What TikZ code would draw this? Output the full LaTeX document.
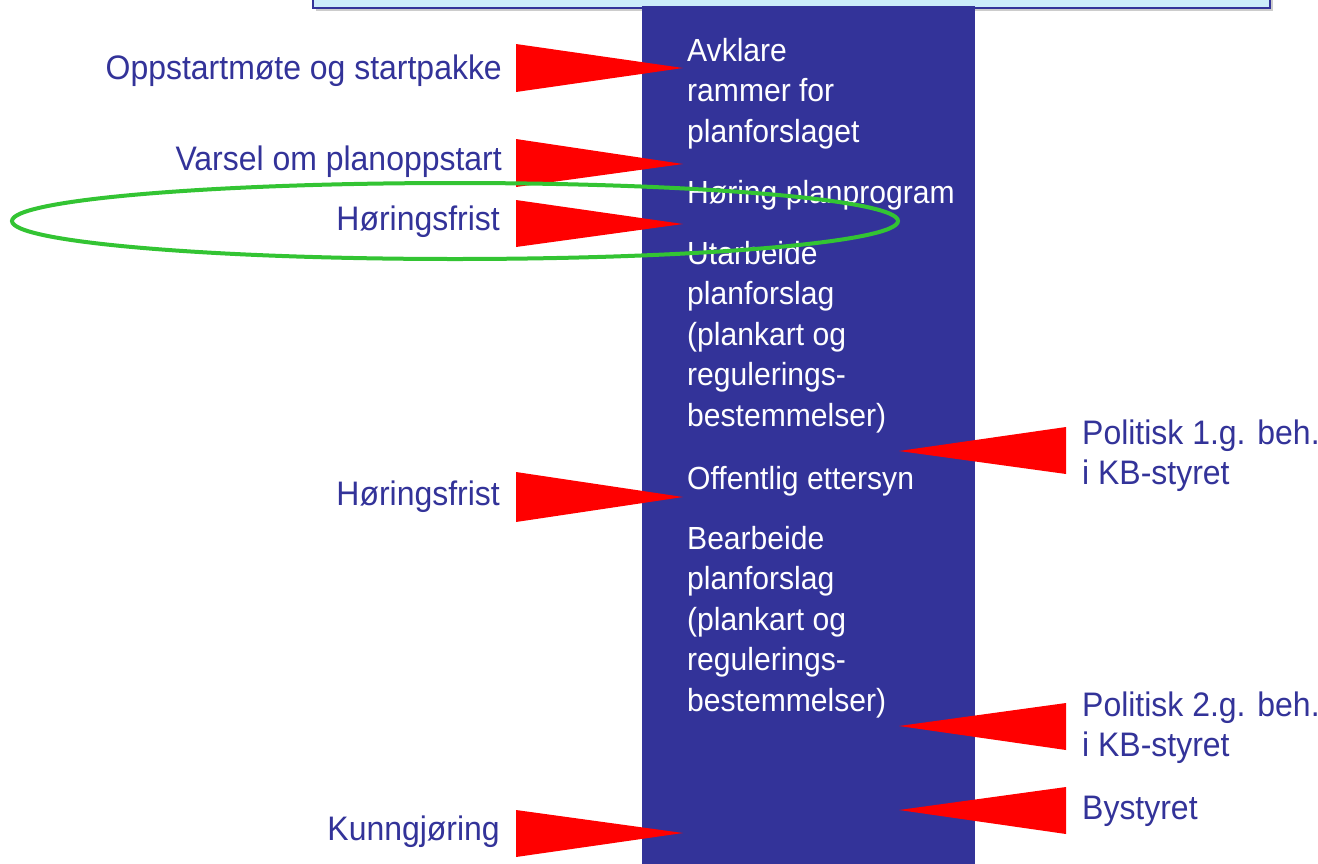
\documentclass[tikz,border=0pt]{standalone}
\usepackage{fontspec}
\setmainfont{Liberation Sans}[FakeStretch=0.94]
\definecolor{navy}{HTML}{333399}
\definecolor{lightbox}{HTML}{CCECFA}
\definecolor{ringgreen}{HTML}{33C433}
\definecolor{tri}{HTML}{FF0000}
\newcommand{\mlines}[1]{\parbox[t]{330pt}{\raggedright #1}}
\begin{document}
\begin{tikzpicture}[x=1pt,y=-1pt,
  txt/.style={font=\fontsize{32}{40.5}\selectfont, inner sep=0pt},
  labtxt/.style={font=\fontsize{34}{40.5}\selectfont, inner sep=0pt, text=navy},
  leftlab/.style={labtxt, anchor=base east},
  rightlab/.style={labtxt, anchor=base west},
  steptext/.style={txt, text=white, anchor=base west},
  redtri/.style={fill=tri, draw=none},
  ring/.style={draw=ringgreen, line width=4pt}]
\useasboundingbox (0,0) rectangle (1318,863);
\fill[white] (0,0) rectangle (1318,863);
% header box
\fill[gray!40] (316,-20) rectangle (1273,11);
\filldraw[fill=lightbox, draw=navy, line width=2.5pt] (313,-20) rectangle (1270,8);
% process column
\fill[navy] (642,6) rectangle (975,870);
% triangles (left side)
\coordinate (a1) at (516,44); \coordinate (b1) at (516,92); \coordinate (t1) at (683,68);
\coordinate (a2) at (516,139); \coordinate (b2) at (516,187); \coordinate (t2) at (683,164);
\coordinate (a3) at (516,200); \coordinate (b3) at (516,247); \coordinate (t3) at (683,224);
\coordinate (a4) at (516,472); \coordinate (b4) at (516,522); \coordinate (t4) at (683,497);
\coordinate (a5) at (516,810); \coordinate (b5) at (516,857); \coordinate (t5) at (683,833);
% triangles (right side)
\coordinate (c1) at (1066,427); \coordinate (d1) at (1066,474); \coordinate (u1) at (899,451);
\coordinate (c2) at (1066,703); \coordinate (d2) at (1066,750); \coordinate (u2) at (899,726);
\coordinate (c3) at (1066,787); \coordinate (d3) at (1066,834); \coordinate (u3) at (899,810);
\foreach \i in {1,...,5} {\fill[redtri] (a\i) -- (b\i) -- (t\i) -- cycle;}
\foreach \i in {1,2,3} {\fill[redtri] (c\i) -- (d\i) -- (u\i) -- cycle;}
% left labels
\node[leftlab] (l1) at (502,79) {Oppstartmøte og startpakke};
\node[leftlab] (l2) at (502,170) {Varsel om planoppstart};
\node[leftlab] (l3) at (500,230) {Høringsfrist};
\node[leftlab] (l4) at (500,505) {Høringsfrist};
\node[leftlab] (l5) at (500,840) {Kunngjøring};
% column steps
\node[steptext] (s1) at (687,61) {\mlines{Avklare\\rammer for\\planforslaget}};
\node[steptext] (s2) at (687,203) {Høring planprogram};
\node[steptext] (s3) at (687,264) {\mlines{Utarbeide\\planforslag\\(plankart og\\regulerings-\\bestemmelser)}};
\node[steptext] (s4) at (687,489) {Offentlig ettersyn};
\node[steptext] (s5) at (687,549) {\mlines{Bearbeide\\planforslag\\(plankart og\\regulerings-\\bestemmelser)}};
% right labels
\node[rightlab] (r1) at (1082,444) {\mlines{Politisk 1.g. beh.\\i KB-styret}};
\node[rightlab] (r2) at (1082,716) {\mlines{Politisk 2.g. beh.\\i KB-styret}};
\node[rightlab] (r3) at (1082,819) {Bystyret};
% highlight ring
\draw[ring] (455,221) ellipse [x radius=443, y radius=38];
\end{tikzpicture}
\end{document}
